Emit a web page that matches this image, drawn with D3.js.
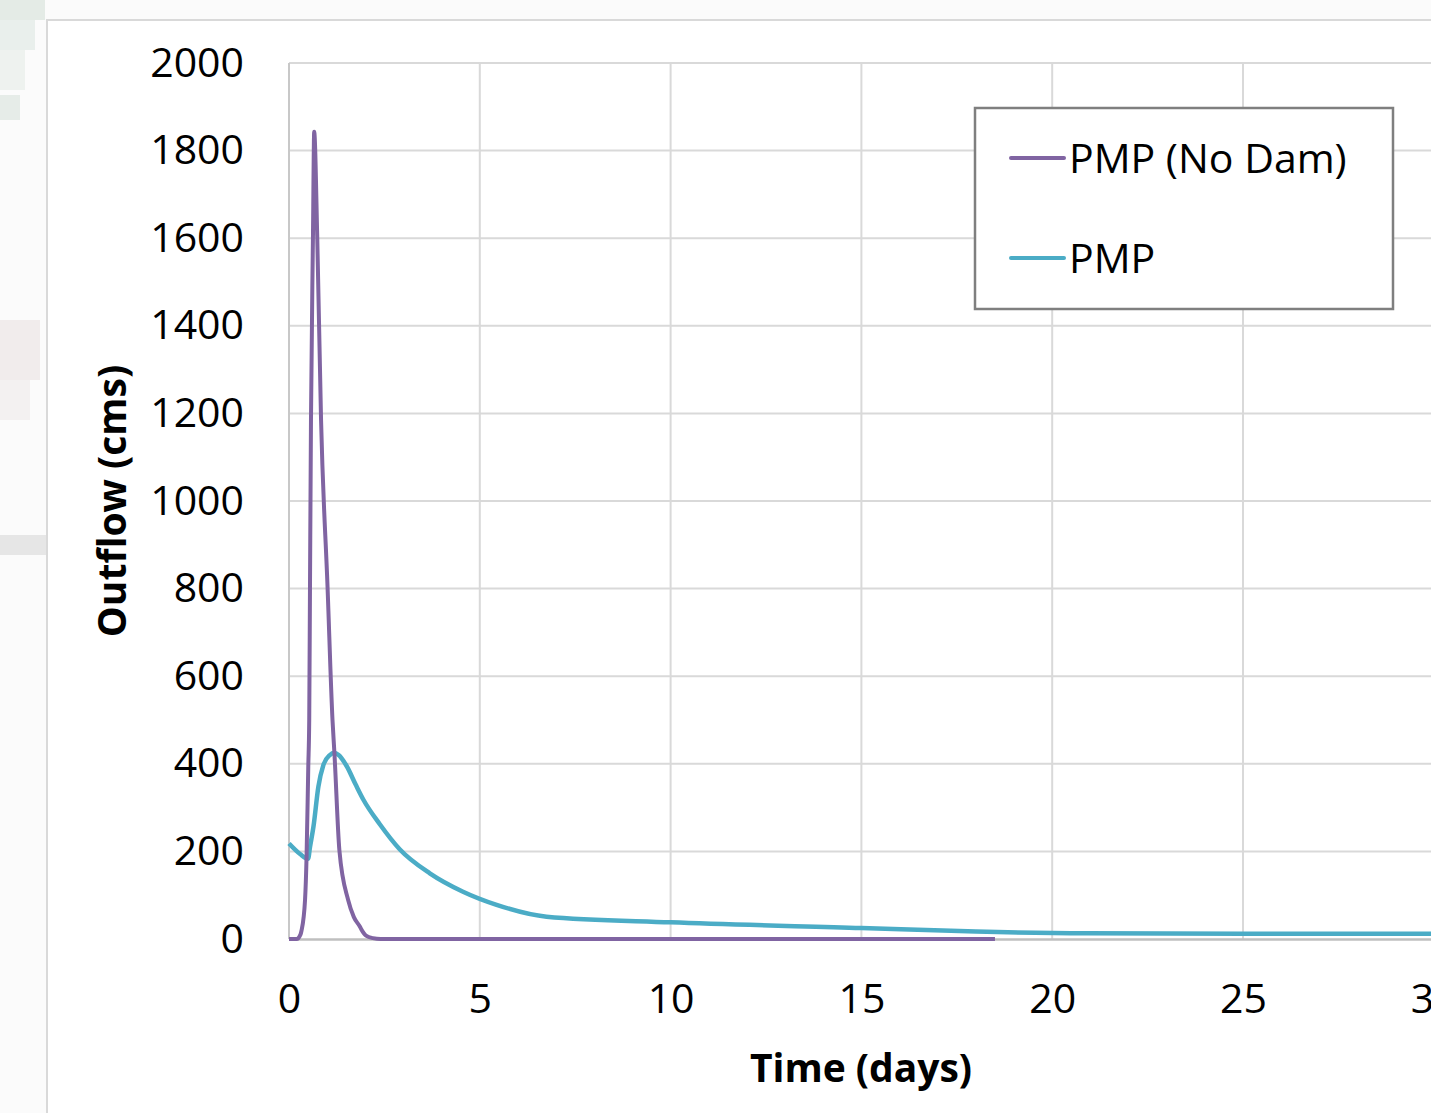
<!DOCTYPE html>
<html>
<head>
<meta charset="utf-8">
<script src="https://cdn.jsdelivr.net/npm/d3@7"></script>
<style>
  html, body { margin: 0; padding: 0; background: #fbfbfb; overflow: hidden; }
  text { font-family: "Open Sans", "Noto Sans", sans-serif; fill: #000; }
</style>
</head>
<body>
<div id="chart"></div>
<script>
// series (time in days, outflow in cms)
const noDamTime  = [0, 0.1, 0.2, 0.3, 0.33, 0.42, 0.46, 0.505, 0.53, 0.55, 0.576, 0.628, 0.66, 0.74, 0.84, 1.01, 1.14, 1.19, 1.32, 1.55, 1.7, 1.86, 1.89, 2.03, 2.2, 2.4, 5, 10, 15, 18.5];
const noDamFlow  = [0, 0, 0, 10, 20, 89, 187, 393, 500, 804, 1185, 1603, 1843, 1603, 1185, 804, 500, 425, 203, 89, 50, 28, 23, 7, 2, 0, 0, 0, 0, 0];
const pmpTime    = [0, 0.29, 0.5, 0.55, 0.64, 0.77, 0.9, 1.07, 1.18, 1.3, 1.51, 1.75, 1.95, 2.38, 2.9, 3.69, 4.56, 5.44, 6.75, 10, 15, 18, 20.9, 25, 30];
const pmpFlow    = [218, 194, 183, 210, 256, 348, 397, 420, 425, 420, 395, 352, 318, 262, 205, 150, 108, 78, 51, 38, 25, 17, 13, 12, 12];

const seriesNames = ["PMP (No Dam)", "PMP"];
const seriesColors = ["#8064A2", "#4BACC6"];
const xTicks = [0, 5, 10, 15, 20, 25, 30];
const yTicks = [0, 200, 400, 600, 800, 1000, 1200, 1400, 1600, 1800, 2000];

const width = 1431, height = 1113;
const svg = d3.select("#chart").append("svg")
    .attr("width", width)
    .attr("height", height);

// blurred background bits showing left of the chart area
const bgBlocks = [
  [0, 0, 45, 20, "#e4ebe6"], [0, 20, 35, 30, "#e9efec"], [0, 50, 25, 40, "#eef2ef"],
  [0, 95, 20, 25, "#e6ece8"], [0, 320, 40, 60, "#f1ecec"], [0, 380, 30, 40, "#f3f1f1"],
  [0, 535, 47, 20, "#e6e6e6"]
];
svg.selectAll("rect.bg").data(bgBlocks).join("rect")
    .attr("class", "bg")
    .attr("x", d => d[0]).attr("y", d => d[1])
    .attr("width", d => d[2]).attr("height", d => d[3])
    .attr("fill", d => d[4]);

// chart area
svg.append("rect")
    .attr("x", 47).attr("y", 20)
    .attr("width", width).attr("height", height)
    .attr("fill", "#fff")
    .attr("stroke", "#d9d9d9")
    .attr("stroke-width", 2);

const x = d3.scaleLinear().domain([0, 30]).range([289, 1433.8]);
const y = d3.scaleLinear().domain([0, 2000]).range([939, 63]);

// gridlines
svg.append("g").selectAll("line").data(yTicks.slice(1)).join("line")
    .attr("x1", x(0)).attr("x2", width)
    .attr("y1", d => y(d)).attr("y2", d => y(d))
    .attr("stroke", "#d9d9d9").attr("stroke-width", 2);
svg.append("g").selectAll("line").data(xTicks).join("line")
    .attr("x1", d => x(d)).attr("x2", d => x(d))
    .attr("y1", y(0)).attr("y2", y(2000))
    .attr("stroke", d => d === 0 ? "#c8c8c8" : "#d9d9d9").attr("stroke-width", 2);

// axes (labels only, Excel style)
const xAxis = svg.append("g")
    .attr("transform", `translate(0,${y(0)})`)
    .call(d3.axisBottom(x).tickValues(xTicks).tickSize(0).tickPadding(45).tickFormat(d3.format("d")));
xAxis.select(".domain").attr("stroke", "#bfbfbf").attr("stroke-width", 2.5);
xAxis.selectAll("text").style("font-size", "41px").attr("fill", "#000");

const yAxis = svg.append("g")
    .attr("transform", `translate(${x(0)},0)`)
    .call(d3.axisLeft(y).tickValues(yTicks).tickSize(0).tickPadding(45).tickFormat(d3.format("d")));
yAxis.select(".domain").remove();
yAxis.selectAll("text").style("font-size", "41px").attr("fill", "#000");

// axis titles
svg.append("text")
    .attr("x", 861).attr("y", 1082)
    .attr("text-anchor", "middle")
    .style("font-size", "39px").style("font-weight", "bold")
    .text("Time (days)");
svg.append("text")
    .attr("transform", "translate(126,501) rotate(-90)")
    .attr("text-anchor", "middle")
    .style("font-size", "39px").style("font-weight", "bold")
    .text("Outflow (cms)");

// lines
const line = d3.line()
    .x(d => x(d[0]))
    .y(d => y(d[1]))
    .curve(d3.curveMonotoneX);

const series = [
  d3.zip(noDamTime, noDamFlow),
  d3.zip(pmpTime, pmpFlow)
];
// teal first so the purple spike sits in front like the original
svg.append("path")
    .datum(series[1])
    .attr("d", line)
    .attr("fill", "none")
    .attr("stroke", seriesColors[1])
    .attr("stroke-width", 4.5)
    .attr("stroke-linejoin", "round");
svg.append("path")
    .datum(series[0])
    .attr("d", line)
    .attr("fill", "none")
    .attr("stroke", seriesColors[0])
    .attr("stroke-width", 4)
    .attr("stroke-linejoin", "round");

// legend
const legend = svg.append("g");
legend.append("rect")
    .attr("x", 975).attr("y", 108)
    .attr("width", 418).attr("height", 201)
    .attr("fill", "#fff")
    .attr("stroke", "#7f7f7f")
    .attr("stroke-width", 2.5);
seriesNames.forEach((name, i) => {
  const cy = 158 + i * 100;
  legend.append("line")
      .attr("x1", 1011).attr("x2", 1064)
      .attr("y1", cy).attr("y2", cy)
      .attr("stroke", seriesColors[i])
      .attr("stroke-width", 4)
      .attr("stroke-linecap", "round");
  legend.append("text")
      .attr("x", 1069).attr("y", cy + 15)
      .style("font-size", "41px")
      .text(name);
});
</script>
</body>
</html>
